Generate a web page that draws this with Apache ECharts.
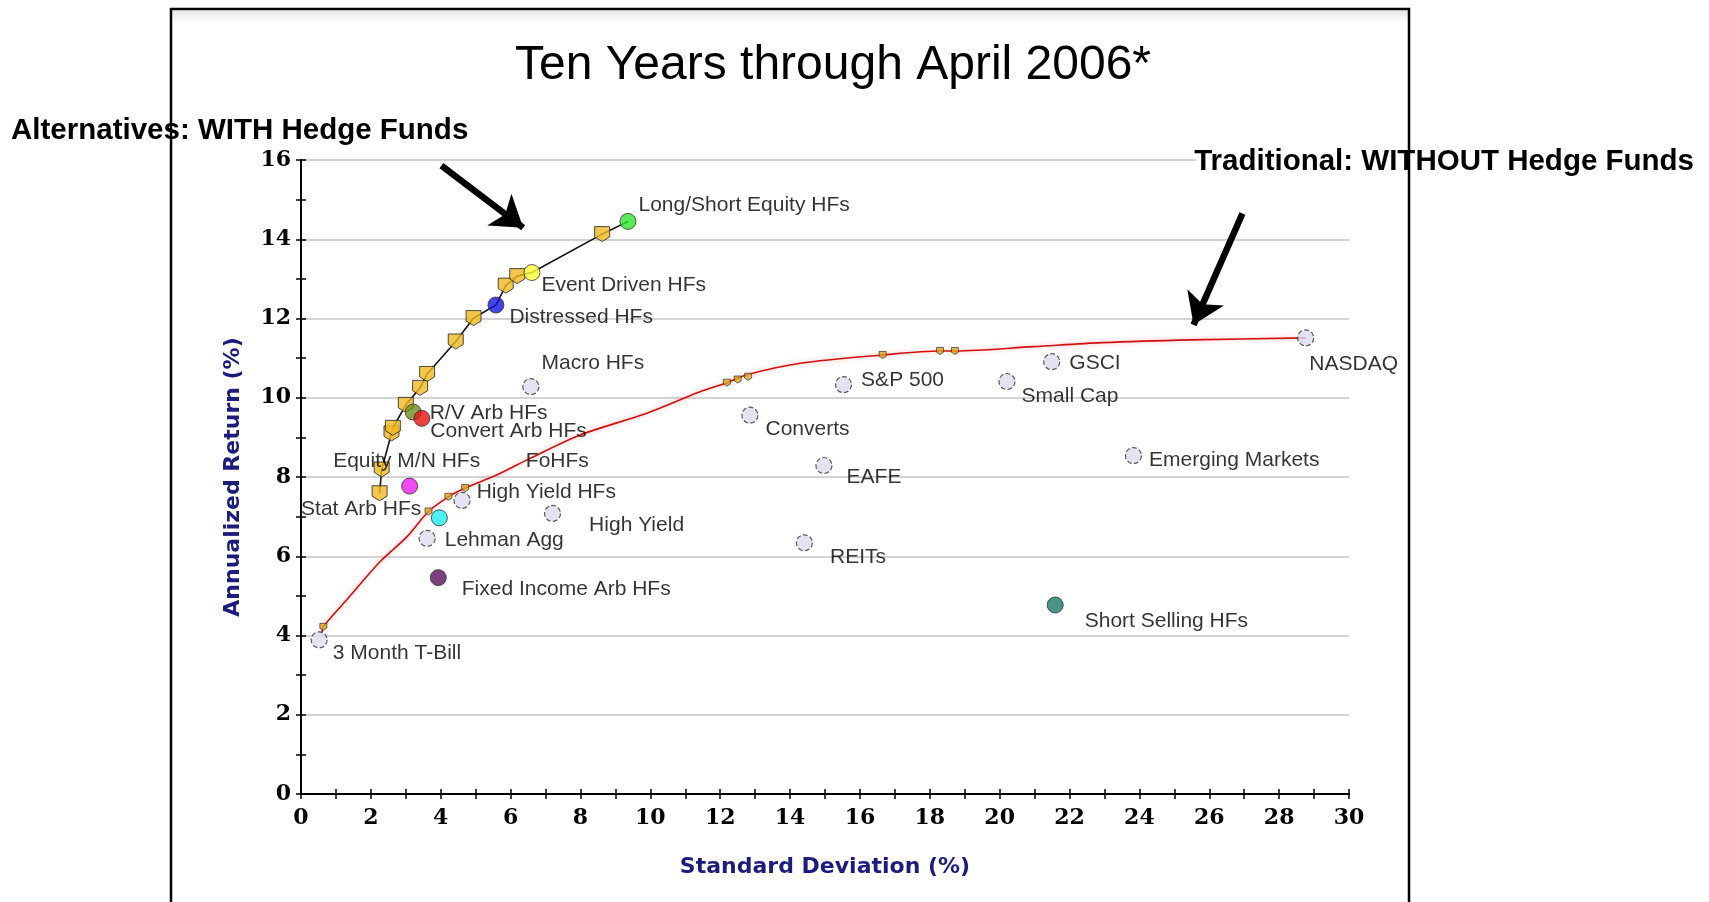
<!DOCTYPE html>
<html>
<head>
<meta charset="utf-8">
<script src="https://cdn.jsdelivr.net/npm/echarts@6/dist/echarts.min.js"></script>
<style>
  html, body { margin: 0; padding: 0; background: #fff; }
  #chart { width: 1709px; height: 902px; }
</style>
</head>
<body>
<div id="chart"></div>
<script>
// hedge fund indices drawn with their own colours
const hfNames = ['Long/Short Equity HFs', 'Event Driven HFs', 'Distressed HFs', 'R/V Arb HFs', 'Convert Arb HFs',
  'Equity M/N HFs', 'FoHFs', 'Fixed Income Arb HFs', 'Short Selling HFs']
const hfSD = [9.36, 6.61, 5.58, 3.21, 3.46, 3.11, 3.96, 3.93, 21.59]
const hfRet = [14.45, 13.16, 12.34, 9.64, 9.48, 7.77, 6.97, 5.46, 4.77]

// traditional assets (and a few HF indices) drawn as pale markers
const assetNames = ['3 Month T-Bill', 'Lehman Agg', 'High Yield HFs', 'High Yield', 'Macro HFs', 'Converts', 'S&P 500',
  'EAFE', 'REITs', 'Small Cap', 'GSCI', 'Emerging Markets', 'NASDAQ']
const assetSD = [0.52, 3.61, 4.61, 7.20, 6.58, 12.85, 15.53, 14.97, 14.41, 20.21, 21.49, 23.83, 28.76]
const assetRet = [3.89, 6.45, 7.41, 7.08, 10.28, 9.56, 10.33, 8.29, 6.34, 10.41, 10.91, 8.54, 11.51]

// frontier WITH hedge funds (portfolio squares)
const frontierNames = ['Stat Arb HFs', '', '', '', '', '', '', '', '', '', '', '']
const frontierSD = [2.25, 2.31, 2.59, 2.63, 3.00, 3.41, 3.61, 4.43, 4.94, 5.86, 6.19, 8.62]
const frontierRet = [7.59, 8.19, 9.10, 9.24, 9.82, 10.25, 10.60, 11.42, 12.01, 12.83, 13.07, 14.13]
// HF indices the black frontier runs through
const frontierEnds = ['Distressed HFs', 'Event Driven HFs', 'Long/Short Equity HFs']

// frontier WITHOUT hedge funds (red curve) and its small portfolio markers
const tradSD = [0.60, 0.64, 1.31, 2.26, 3.03, 3.65, 4.22, 4.70, 5.60, 6.56, 7.99, 9.90, 11.42, 12.19, 12.76, 14.29,
  16.65, 18.29, 18.72, 20.97, 22.93, 25.48, 28.76]
const tradRet = [4.05, 4.22, 4.90, 5.86, 6.49, 7.13, 7.50, 7.72, 8.05, 8.47, 9.06, 9.61, 10.15, 10.38, 10.58, 10.87,
  11.08, 11.18, 11.18, 11.29, 11.39, 11.46, 11.51]
const tradMarkSD = [0.64, 3.65, 4.22, 4.70, 12.19, 12.50, 12.80, 16.65, 18.29, 18.72]
const tradMarkRet = [4.22, 7.13, 7.50, 7.72, 10.38, 10.46, 10.53, 11.08, 11.18, 11.18]

// styling
const hfColors = ['#2ee62e', '#ffff33', '#1515e0', '#6e8c1e', '#e81010', '#f01cf0', '#22eef0', '#5a1060', '#1a7a6a']
const labelOffset = {
  'Long/Short Equity HFs': [10, -16], 'Event Driven HFs': [9, 13], 'Distressed HFs': [13, 12],
  'Macro HFs': [10, -23], 'R/V Arb HFs': [16, 1], 'Convert Arb HFs': [8, 13], 'Equity M/N HFs': [-77, -25],
  'FoHFs': [86, -57], 'High Yield HFs': [14, -8], 'Lehman Agg': [17, 2], 'High Yield': [36, 12],
  'Fixed Income Arb HFs': [23, 12], '3 Month T-Bill': [13, 13], 'Converts': [15, 14], 'S&P 500': [17, -4],
  'EAFE': [22, 12], 'REITs': [25, 14], 'Small Cap': [14, 15], 'GSCI': [17, 2], 'Emerging Markets': [15, 5],
  'Short Selling HFs': [29, 16], 'NASDAQ': [3, 26], 'Stat Arb HFs': [-79, 16],
}
const arrows = [
  [[4.02, 15.86], [6.36, 14.29]],
  [[26.95, 14.65], [25.55, 11.84]],
]

const labelFont = { fontFamily: 'Liberation Sans', fontSize: 21, color: '#000' }
const tickFont = { fontFamily: 'DejaVu Serif', fontWeight: 'bold', fontSize: 22, color: '#000' }
const nameFont = { fontFamily: 'DejaVu Sans', fontWeight: 'bold', fontSize: 22, color: '#1c1c7c' }
const shield = 'path://M0,0 L12,0 L12,9 L6,13 L0,9 Z'

const pointLabel = (name, size) => {
  if (!name) return { show: false }
  const [dx, dy] = labelOffset[name] || [10, 0]
  return {
    show: true, formatter: name, position: 'right', distance: 0,
    offset: [dx - size / 2, dy], align: 'left', verticalAlign: 'middle', ...labelFont,
  }
}

const hfData = hfNames.map((n, i) => ({
  name: n, value: [hfSD[i], hfRet[i]],
  itemStyle: { color: hfColors[i] }, label: pointLabel(n, 16),
}))
const assetData = assetNames.map((n, i) => ({ name: n, value: [assetSD[i], assetRet[i]], label: pointLabel(n, 16) }))
const squareData = frontierNames.map((n, i) => ({ name: n, value: [frontierSD[i], frontierRet[i]], label: pointLabel(n, 15) }))
const frontierLine = frontierSD.map((x, i) => [x, frontierRet[i]])
  .concat(frontierEnds.map((n) => { const i = hfNames.indexOf(n); return [hfSD[i], hfRet[i]] }))
  .sort((a, b) => a[0] - b[0])

const tickStyle = { color: '#000', width: 1.5 }
const boldText = { fontFamily: 'Liberation Sans', fontWeight: 'bold', fontSize: 29.5, fill: '#000', verticalAlign: 'middle' }

const option = {
  animation: false,
  backgroundColor: '#fff',
  grid: { left: 301, right: 360, top: 160, bottom: 108 },
  xAxis: [
    {
      type: 'value', min: 0, max: 30, interval: 2,
      axisLine: { lineStyle: { color: '#000', width: 2 } },
      axisTick: { length: 5, lineStyle: tickStyle },
      minorTick: { show: true, splitNumber: 2, length: 5, lineStyle: tickStyle },
      splitLine: { show: false },
      axisLabel: { margin: 13, ...tickFont },
      name: 'Standard Deviation (%)', nameLocation: 'middle', nameGap: 62, nameTextStyle: nameFont,
    },
    {
      type: 'value', min: 0, max: 30, interval: 1, position: 'bottom',
      axisLine: { show: false }, axisLabel: { show: false }, splitLine: { show: false },
      axisTick: { inside: true, length: 5, lineStyle: tickStyle },
    },
  ],
  yAxis: [
    {
      type: 'value', min: 0, max: 16, interval: 2,
      axisLine: { show: true, lineStyle: { color: '#000', width: 2 } },
      axisTick: { show: true, length: 5, lineStyle: tickStyle },
      minorTick: { show: true, splitNumber: 2, length: 5, lineStyle: tickStyle },
      splitLine: { show: true, lineStyle: { color: '#c4c4c4', width: 1.5 } },
      axisLabel: { margin: 10, ...tickFont },
      name: 'Annualized Return (%)', nameLocation: 'middle', nameGap: 57, nameTextStyle: nameFont,
    },
    {
      type: 'value', min: 0, max: 16, interval: 1, position: 'left',
      axisLine: { show: false }, axisLabel: { show: false }, splitLine: { show: false },
      axisTick: { show: true, inside: true, length: 5, lineStyle: tickStyle },
    },
  ],
  graphic: [
    {
      type: 'rect', silent: true, z: 10,
      shape: { x: 172, y: 11, width: 1237, height: 12 },
      style: {
        fill: new echarts.graphic.LinearGradient(0, 0, 0, 1, [
          { offset: 0, color: '#e6e6e6' }, { offset: 1, color: '#ffffff' },
        ]),
      },
    },
    {
      type: 'text', x: 833, y: 66, silent: true, z: 10,
      style: { text: 'Ten Years through April 2006*', fontFamily: 'Liberation Sans', fontSize: 48, fill: '#000', align: 'center', verticalAlign: 'middle' },
    },
    {
      type: 'text', x: 11, y: 131, silent: true, z: 10,
      style: { text: 'Alternatives: WITH Hedge Funds', align: 'left', ...boldText },
    },
    {
      // white strip hiding the top grid line behind the right-hand annotation (gap left for the frame)
      type: 'rect', silent: true, z: 10,
      shape: { x: 1196, y: 150, width: 211, height: 24 },
      style: { fill: '#fff' },
    },
    {
      type: 'text', x: 1694, y: 162, silent: true, z: 11,
      style: { text: 'Traditional: WITHOUT Hedge Funds', align: 'right', ...boldText },
    },
    {
      // slide frame
      type: 'rect', silent: true, z: 20,
      shape: { x: 171, y: 9, width: 1238, height: 900 },
      style: { fill: 'none', stroke: '#000', lineWidth: 2.5 },
    },
  ],
  series: [
    {
      name: 'Traditional', type: 'line', smooth: 0.3, showSymbol: false, silent: true, z: 2,
      data: tradSD.map((x, i) => [x, tradRet[i]]),
      lineStyle: { color: '#d01010', width: 1.6, shadowColor: 'rgba(255,110,110,0.55)', shadowBlur: 5 },
      markLine: {
        silent: true, symbol: ['none', 'arrow'], symbolSize: 30,
        itemStyle: { color: '#000' },
        lineStyle: { color: '#000', width: 6.5, type: 'solid', shadowBlur: 0 },
        label: { show: false },
        emphasis: { disabled: true },
        data: arrows.map(([a, b]) => [{ coord: a }, { coord: b }]),
      },
    },
    {
      name: 'Traditional portfolios', type: 'scatter', silent: true, z: 3,
      symbol: shield, symbolSize: [7, 7],
      itemStyle: { color: '#d9a520', borderColor: '#222', borderWidth: 0.8 },
      data: tradMarkSD.map((x, i) => [x, tradMarkRet[i]]),
    },
    {
      name: 'Alternatives', type: 'line', showSymbol: false, silent: true, z: 4,
      data: frontierLine,
      lineStyle: { color: '#111', width: 1.6 },
    },
    {
      name: 'Alternative portfolios', type: 'scatter', silent: true, z: 5,
      symbol: shield, symbolSize: [15, 15],
      itemStyle: { color: '#f0b820', borderColor: '#222', borderWidth: 1 },
      data: squareData,
    },
    {
      name: 'Assets', type: 'scatter', silent: true, z: 6,
      symbol: 'circle', symbolSize: 16,
      itemStyle: { color: '#dcdcee', borderColor: '#333', borderWidth: 1.2, borderType: 'dashed' },
      data: assetData,
    },
    {
      name: 'Hedge funds', type: 'scatter', silent: true, z: 7,
      symbol: 'circle', symbolSize: 16,
      itemStyle: { borderColor: '#333', borderWidth: 1 },
      data: hfData,
    },
  ],
}

const chart = echarts.init(document.getElementById('chart'), null, { renderer: 'canvas' })
chart.setOption(option)
</script>
</body>
</html>
